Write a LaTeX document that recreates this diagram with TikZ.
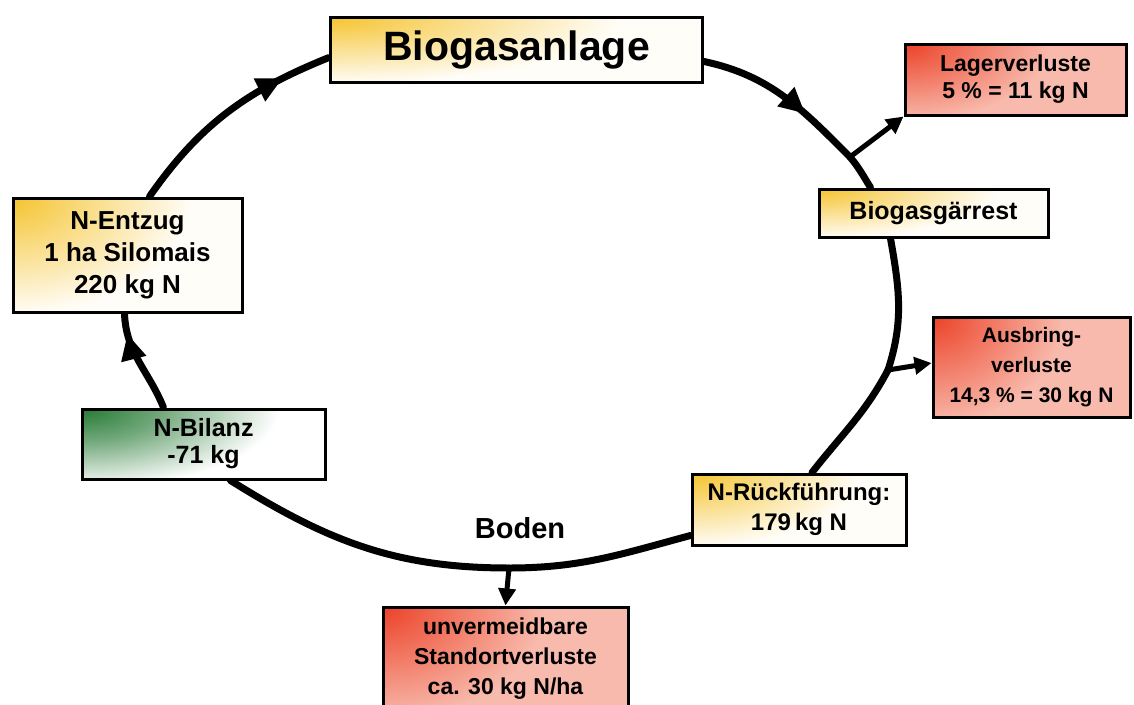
\documentclass[tikz,border=0pt]{standalone}
\usepackage{fontspec}
\setmainfont{Liberation Sans}
\usetikzlibrary{arrows.meta, calc, decorations.markings, backgrounds}

\definecolor{goldtone}{RGB}{245,196,48}
\definecolor{creamtone}{RGB}{255,253,248}
\definecolor{lossred}{RGB}{236,66,40}
\definecolor{losspink}{RGB}{248,186,172}
\definecolor{leafgreen}{RGB}{38,122,52}

% corner fades for the boxes
\pgfdeclareradialshading{goldfade}{\pgfpoint{0bp}{0bp}}{color(0bp)=(goldtone); color(3bp)=(goldtone!60!creamtone); color(7.5bp)=(creamtone); color(50bp)=(creamtone)}
\pgfdeclareradialshading{redfade}{\pgfpoint{0bp}{0bp}}{color(0bp)=(lossred); color(3bp)=(lossred!60!losspink); color(7.5bp)=(losspink); color(50bp)=(losspink)}
\pgfdeclareradialshading{greenfade}{\pgfpoint{0bp}{0bp}}{color(0bp)=(leafgreen); color(3bp)=(leafgreen!65!white); color(7.5bp)=(white); color(50bp)=(white)}

\begin{document}
\begin{tikzpicture}[
    x=1pt, y=-1pt,
    box/.style={rectangle, draw, line width=3pt, align=center, inner sep=0pt, font=\bfseries\fontsize{24}{30}\selectfont},
    shadebox/.style n args={3}{path picture={
        \shade[shading=#1]
          let \p1=($(path picture bounding box.north east)-(path picture bounding box.south west)$) in
          (path picture bounding box.north west) ellipse [x radius={#2*\x1}, y radius={#3*\y1}];}},
    yellowbox/.style={box, fill=creamtone, shadebox={goldfade}{2.6}{3.4}},
    redbox/.style={box, fill=losspink, shadebox={redfade}{2.2}{3.6}},
    greenbox/.style={box, fill=white, shadebox={greenfade}{2.7}{3.8}},
    ring/.style={line width=7pt, line cap=round},
    flowmark/.style={postaction={decorate, decoration={markings, mark=at position #1 with {\arrow{Triangle[length=26pt,width=24pt]}}}}},
    arrow/.style={line width=5pt, -{Triangle[length=17pt,width=17pt]}}
]
\useasboundingbox (0,0) rectangle (1134,704);
\clip (0,0) rectangle (1134,704);

% Plant and digestate
\node[yellowbox, minimum width=372, minimum height=65, font=\bfseries\fontsize{41}{48}\selectfont] (biogas) at (516.5,49.5) {Biogasanlage};
\node[yellowbox, minimum width=229, minimum height=48, font=\bfseries\fontsize{25}{30}\selectfont] (gaerrest) at (933.5,213) {Biogasgärrest};
\node[yellowbox, minimum width=214, minimum height=71] (rueck) at (799,509.5) {N-Rückführung:\\179\,kg N};
\node[yellowbox, minimum width=229, minimum height=114, font=\bfseries\fontsize{26}{32}\selectfont] (entzug) at (127.5,255) {N-Entzug\\1 ha Silomais\\220 kg N};
\node[greenbox, minimum width=243, minimum height=70, font=\bfseries\fontsize{25}{27}\selectfont] (bilanz) at (203.5,444) {N-Bilanz\\-71 kg};
\node[font=\bfseries\fontsize{29}{34}\selectfont] (boden) at (520,528) {Boden};

% Losses
\node[redbox, minimum width=221, minimum height=71, font=\bfseries\fontsize{23}{27}\selectfont] (lager) at (1015.5,79.5) {Lagerverluste\\5 \% = 11 kg N};
\node[redbox, minimum width=197, minimum height=100, font=\bfseries\fontsize{21}{30}\selectfont] (ausbring) at (1031.5,367) {Ausbring-\\verluste\\14,3 \% = 30 kg N};
\node[redbox, minimum width=245, minimum height=104, font=\bfseries\fontsize{23}{30}\selectfont] (standort) at (505.5,659) {unvermeidbare\\Standortverluste\\ca. 30 kg N/ha};

% Branch points
\coordinate (lagerpt) at (850,157);
\coordinate (ausbpt) at (888,370);
\coordinate (bodenpt) at (509,568);

% Nitrogen cycle
\begin{scope}[on background layer]
\draw[ring, flowmark=0.65] ($(biogas.east)+(0,12)$) to[out=-12, in=135] (lagerpt);
\draw[ring] (lagerpt) to[out=-50, in=122] ($(gaerrest.north)+(-63,0)$);
\draw[ring] ($(gaerrest.south)+(-43,0)$) to[out=-80, in=72] (ausbpt);
\draw[ring] (ausbpt) to[out=-118, in=52] ($(rueck.north)+(13,0)$);
\draw[ring] ($(rueck.west)+(0,26)$) to[out=-165, in=0] (bodenpt);
\draw[ring] (bodenpt) to[out=180, in=-32] ($(bilanz.south)+(27,0)$);
\draw[ring, flowmark=0.8] ($(bilanz.north)+(-40,0)$) to[out=112, in=-88] ($(entzug.south)+(-3,0)$);
\draw[ring, flowmark=0.78] ($(entzug.north)+(22,0)$) to[out=55, in=-158] ($(biogas.west)+(0,8)$);

\draw[arrow] (lagerpt) -- (lager.south west);
\draw[arrow] (ausbpt) -- ($(ausbring.west)+(0,-4)$);
\draw[arrow] (bodenpt) -- (standort.north);
\end{scope}

\end{tikzpicture}
\end{document}
